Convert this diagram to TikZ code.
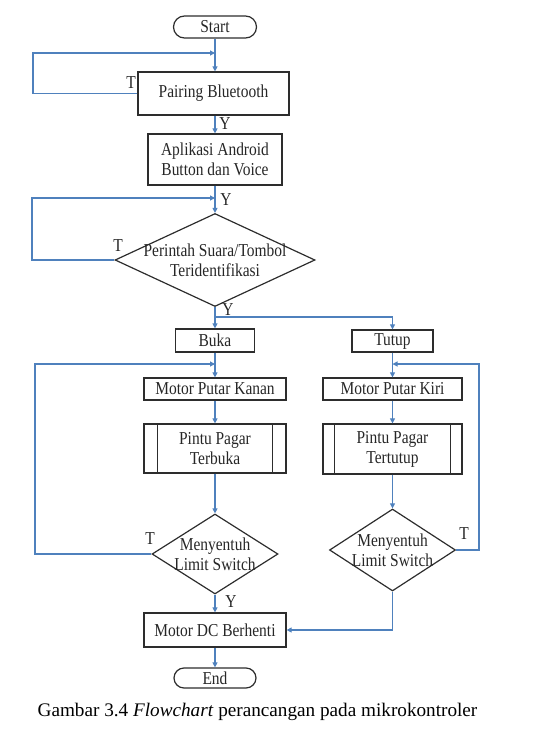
\documentclass[tikz,border=0pt]{standalone}
\usepackage{fontspec}
\setmainfont{Liberation Serif}
\newfontfamily\chartfont[FakeStretch=0.85]{Liberation Serif}
\usetikzlibrary{shapes.geometric,arrows.meta}

\definecolor{flowblue}{RGB}{79,129,189}
\definecolor{boxline}{RGB}{45,45,45}

\begin{document}
\begin{tikzpicture}[x=1pt,y=-1pt,
  every node/.style={font=\chartfont\fontsize{18.2}{20}\selectfont, text=black!85},
  box/.style={draw=boxline, line width=1.2pt, rectangle, inner sep=0pt, align=center},
  term/.style={box, rounded corners=10pt},
  subproc/.style={box, path picture={
      \draw[boxline, line width=1.2pt]
        ([xshift=#1]path picture bounding box.north west) -- ([xshift=#1]path picture bounding box.south west)
        ([xshift=-#1]path picture bounding box.north east) -- ([xshift=-#1]path picture bounding box.south east);}},
  decision/.style={draw=boxline, line width=1.2pt, diamond, inner sep=0pt, aspect=1},
  link/.style={draw=flowblue, line width=1.1pt},
  conn/.style={link, -{Triangle[length=5pt,width=5pt]}},
  tag/.style={inner sep=0pt}
]
\useasboundingbox (0,0) rectangle (545,738);

% main column
\node[term, minimum width=83pt, minimum height=22pt, rounded corners=11pt] (start) at (215,27) {Start};
\node[box, minimum width=151pt, minimum height=43pt] (pair) at (213.5,93.5) {Pairing Bluetooth};
\node[box, minimum width=134pt, minimum height=51pt] (apl) at (215,159.5) {Aplikasi Android\\Button dan Voice};
\node[decision, minimum width=200pt, minimum height=93pt,
      label={[align=center]center:Perintah Suara/Tombol\\Teridentifikasi}] (dec1) at (215,260) {};

% open branch
\node[box, minimum width=79pt, minimum height=23pt] (buka) at (215,340.5) {Buka};
\node[box, minimum width=142pt, minimum height=22pt] (kanan) at (215,389) {Motor Putar Kanan};
\node[subproc=13.5pt, minimum width=142pt, minimum height=49pt] (terbuka) at (215,448.5) {Pintu Pagar\\Terbuka};
\node[decision, minimum width=126pt, minimum height=80pt,
      label={[align=center]center:Menyentuh\\Limit Switch}] (dec2) at (215,554) {};

% close branch
\node[box, minimum width=81pt, minimum height=22pt] (tutup) at (392.5,341) {Tutup};
\node[box, minimum width=139pt, minimum height=22pt] (kiri) at (392.5,389) {Motor Putar Kiri};
\node[subproc=11.5pt, minimum width=139pt, minimum height=50pt] (tertutup) at (392.5,449) {Pintu Pagar\\Tertutup};
\node[decision, minimum width=126pt, minimum height=82pt,
      label={[align=center]center:Menyentuh\\Limit Switch}] (dec3) at (392.5,550) {};

% end of flow
\node[box, minimum width=142pt, minimum height=34pt] (stop) at (215,630) {Motor DC Berhenti};
\node[term, minimum width=82pt, minimum height=20pt] (end) at (215,678) {End};

% loop corners and junctions
\coordinate (j1) at (215,53);
\coordinate (l1) at (33,53);
\coordinate (j2) at (215,198);
\coordinate (l2) at (32,198);
\coordinate (j3) at (215,317);
\coordinate (j4) at (215,364);
\coordinate (l3) at (35,364);
\coordinate (j5) at (392.5,364);
\coordinate (r1) at (479,364);

% connectors
\draw[conn] (start) -- (start |- pair.north);
\draw[conn] (pair.west) -| (l1) -- (j1);
\draw[conn] (pair.south -| apl.north) -- (apl.north);
\draw[conn] (apl) -- (dec1.north);
\draw[conn] (dec1.west) -| (l2) -- (j2);
\draw[conn] (dec1.south) -- (buka.north);
\draw[conn] (j3) -| (tutup.north);
\draw[conn] (buka) -- (kanan);
\draw[conn] (dec2.west) -| (l3) -- (j4);
\draw[conn] (kanan) -- (terbuka);
\draw[conn] (terbuka) -- (dec2.north);
\draw[conn] (tutup) -- (kiri);
\draw[conn] (dec3.east) -| (r1) -- (j5);
\draw[conn] (kiri) -- (tertutup);
\draw[conn] (tertutup) -- (dec3.north);
\draw[conn] (dec2.south) -- (stop.north);
\draw[conn] (dec3.south) |- (stop.east);
\draw[conn] (stop) -- (end);

% branch labels
\node[tag] (t1) at (131,83) {T};
\node[tag] (y1) at (225,124) {Y};
\node[tag] (y2) at (226,200) {Y};
\node[tag] (t2) at (118,246) {T};
\node[tag] (y3) at (228,310) {Y};
\node[tag] (t3) at (150,539) {T};
\node[tag] (t4) at (464,534) {T};
\node[tag] (y4) at (231,602) {Y};

% caption
\node[font=\fontsize{19.2}{23}\selectfont, text=black] (caption) at (257.5,712)
  {Gambar 3.4 \textit{Flowchart} perancangan pada mikrokontroler};
\end{tikzpicture}
\end{document}
